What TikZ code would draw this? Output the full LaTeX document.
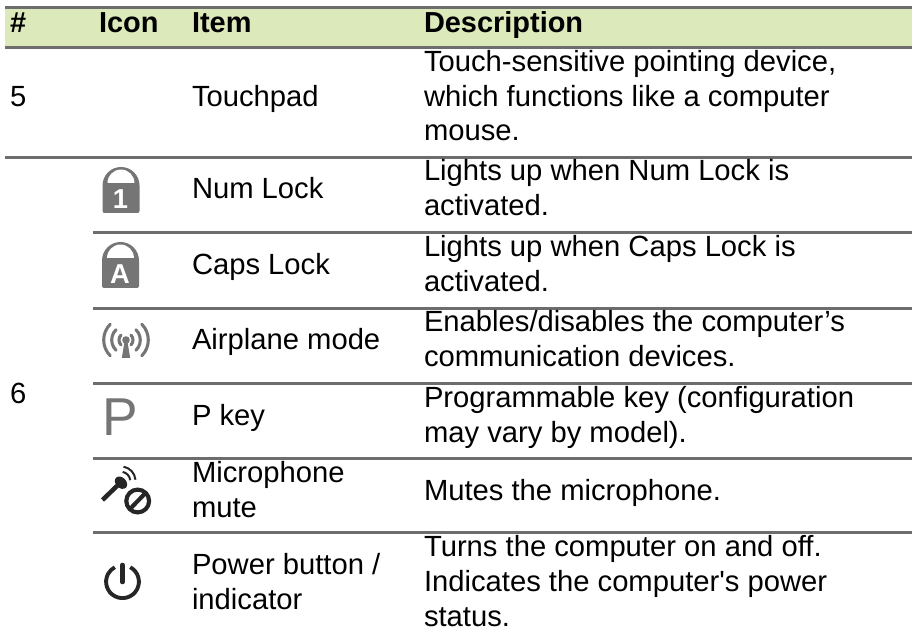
\documentclass[tikz,border=0pt]{standalone}
\usepackage{fontspec}
\setmainfont{Liberation Sans}[Ligatures=TeXOff]
\definecolor{rulegray}{HTML}{6D6D6D}
\definecolor{headgreen}{HTML}{DCE9BA}
\definecolor{icongray}{HTML}{757575}
\definecolor{icondark}{HTML}{262626}
\tikzset{x=0.75pt,y=-0.75pt,
 rulel/.style={draw=rulegray,line width=2.25pt},
 txt/.style={anchor=base west,inner sep=0pt,outer sep=0pt,font=\fontsize{21.9}{26}\selectfont},
 hd/.style={anchor=base west,inner sep=0pt,outer sep=0pt,font=\fontsize{21.7}{26}\selectfont\bfseries},
 lockglyph/.style={anchor=base,inner sep=0pt,text=white,font=\fontsize{20.5}{20.5}\selectfont\bfseries},
 lockbody/.pic={
  \fill[icongray] (0,18.5) arc (180:0:13.875pt) [rounded corners=1.5pt] -- (37,46) -- (0,46) [sharp corners] -- cycle;
  \fill[white] (5,16) arc (180:0:10.1pt) -- cycle;
 }}
\begin{document}
\begin{tikzpicture}
\useasboundingbox (0,0) rectangle (917,641);
\fill[headgreen] (5,8) rectangle (912,47);
\foreach \y in {7.5,47.5,157.5}{\draw[rulel] (5,\y) -- (912,\y);}
\foreach \y in {232.5,308.5,383.5,458.5,532.5}{\draw[rulel] (93,\y) -- (912,\y);}
\node[hd] (h1) at (10,32.5) {\#};
\node[hd] (h2) at (99,32.5) {Icon};
\node[hd] (h3) at (192,32.5) {Item};
\node[hd] (h4) at (424,32.5) {Description};
\node[txt] (n5) at (10,106.5) {5};
\node[txt] (n6) at (10,403) {6};
\node[txt] (i1) at (192,106.5) {Touchpad};
\node[txt] (i2) at (192,199) {Num Lock};
\node[txt] (i3) at (192,275) {Caps Lock};
\node[txt] (i4) at (192,350) {Airplane mode};
\node[txt] (i5) at (192,425) {P key};
\node[txt] (i6a) at (192,482) {Microphone};
\node[txt] (i6b) at (192,517) {mute};
\node[txt] (i7a) at (192,574) {Power button /};
\node[txt] (i7b) at (192,609) {indicator};
\node[txt] (d1a) at (424,72) {Touch-sensitive pointing device,};
\node[txt] (d1b) at (424,106.5) {which functions like a computer};
\node[txt] (d1c) at (424,141) {mouse.};
\node[txt] (d2a) at (424,181) {Lights up when Num Lock is};
\node[txt] (d2b) at (424,216) {activated.};
\node[txt] (d3a) at (424,257) {Lights up when Caps Lock is};
\node[txt] (d3b) at (424,292) {activated.};
\node[txt] (d4a) at (424,332) {Enables/disables the computer’s};
\node[txt] (d4b) at (424,367) {communication devices.};
\node[txt] (d5a) at (424,407) {Programmable key (configuration};
\node[txt] (d5b) at (424,442) {may vary by model).};
\node[txt] (d6) at (424,500) {Mutes the microphone.};
\node[txt] (d7a) at (424,556) {Turns the computer on and off.};
\node[txt] (d7b) at (424,591) {Indicates the computer's power};
\node[txt] (d7c) at (424,626) {status.};
% lock 1
\pic at (102.5,167) {lockbody};
\node[lockglyph] (g1) at (120.5,208.3) {1};
% lock A
\pic at (102,242) {lockbody};
\node[lockglyph] (gA) at (120,284) {A};
% airplane
\begin{scope}[shift={(126,340)}]
\fill[icongray] (0,0) circle (3.8);
\fill[icongray] (-1.5,2) -- (1.5,2) -- (4.2,18) -- (-4.2,18) -- cycle;
\foreach \r/\a in {7/45,14.3/46,22.3/45}{
 \draw[icongray,line width=2.3pt,line cap=round] (-\a:\r*0.75pt) arc (-\a:\a:\r*0.75pt);
 \draw[icongray,line width=2.3pt,line cap=round] (180-\a:\r*0.75pt) arc (180-\a:180+\a:\r*0.75pt);}
\end{scope}
% P
\node[anchor=base west,inner sep=0pt,text=icongray,font=\fontsize{40}{40}\selectfont] (pk) at (102.5,435) {P};
% mic
\draw[icondark,line width=3.4pt] (102.5,500) -- (118,485);
\fill[icondark,rotate around={-45:(121,482.7)}] (121,482.7) ellipse (7 and 5.2);
\draw[icondark,line width=1.5pt] ([shift={(80:6.9pt)}]121,481) arc (80:5:6.9pt);
\draw[icondark,line width=1.5pt] ([shift={(80:10.9pt)}]121,481) arc (80:5:10.9pt);
\draw[icondark,line width=3.1pt] (137.7,501) circle (11.4);
\draw[icondark,line width=3.1pt] (130,509) -- (145.5,493);
% power
\draw[icondark,line width=2.9pt] ([shift={(62:12.3pt)}]122.5,581.7) arc (62:-242:12.3pt);
\draw[icondark,line width=3.4pt,line cap=round] (122.5,565) -- (122.5,582);
\end{tikzpicture}
\end{document}
